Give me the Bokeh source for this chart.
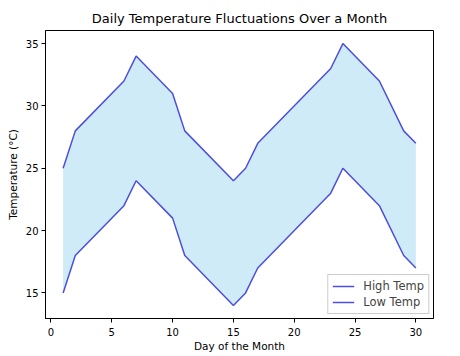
from bokeh.plotting import figure
from bokeh.models import Range1d, ColumnDataSource, Legend, LegendItem, FixedTicker
from bokeh.embed import file_html
from bokeh.resources import INLINE

days = [1, 2, 6, 7, 10, 11, 15, 16, 17, 23, 24, 27, 29, 30]
high_temp = [25, 28, 32, 34, 31, 28, 24, 25, 27, 33, 35, 32, 28, 27]
low_temp = [15, 18, 22, 24, 21, 18, 14, 15, 17, 23, 25, 22, 18, 17]
x_ticks = [0, 5, 10, 15, 20, 25, 30]
y_ticks = [15, 20, 25, 30, 35]

FONT = "DejaVu Sans"

p = figure(width=460, height=356, output_backend="svg", toolbar_location=None,
           x_range=Range1d(-0.45, 31.45), y_range=Range1d(12.95, 36.05),
           min_border_left=45, min_border_right=27, min_border_top=30, min_border_bottom=38)

p.title.text = "Daily Temperature Fluctuations Over a Month"
p.title.align = "center"
p.title.text_font = FONT
p.title.text_font_size = "13px"
p.title.text_font_style = "normal"
p.title.text_color = "black"

src = ColumnDataSource(dict(x=days, hi=high_temp, lo=low_temp))
p.varea(x="x", y1="lo", y2="hi", source=src, fill_color="skyblue", fill_alpha=0.4)
r_hi = p.line(x="x", y="hi", source=src, line_color="#3c3cd8", line_alpha=0.9, line_width=1.5)
r_lo = p.line(x="x", y="lo", source=src, line_color="#3c3cd8", line_alpha=0.9, line_width=1.5)

p.xgrid.visible = False
p.ygrid.visible = False
p.outline_line_color = "black"
p.outline_line_width = 1

for ax in (p.xaxis[0], p.yaxis[0]):
    ax.axis_line_color = "black"
    ax.major_tick_line_color = "black"
    ax.major_tick_out = 4
    ax.major_tick_in = 0
    ax.minor_tick_line_color = None
    ax.major_label_text_font = FONT
    ax.major_label_text_font_size = "10px"
    ax.major_label_text_color = "black"
    ax.axis_label_text_font = FONT
    ax.axis_label_text_font_size = "10.5px"
    ax.axis_label_text_font_style = "normal"
    ax.axis_label_text_color = "black"

p.xaxis[0].ticker = FixedTicker(ticks=x_ticks)
p.yaxis[0].ticker = FixedTicker(ticks=y_ticks)
p.xaxis[0].axis_label = "Day of the Month"
p.yaxis[0].axis_label = "Temperature (°C)"
p.xaxis[0].axis_label_standoff = 1
p.yaxis[0].axis_label_standoff = 4
p.xaxis[0].major_label_standoff = 5
p.yaxis[0].major_label_standoff = 3

legend = Legend(items=[LegendItem(label="High Temp", renderers=[r_hi]),
                       LegendItem(label="Low Temp", renderers=[r_lo])],
                location="bottom_right")
legend.label_text_font = FONT
legend.label_text_font_size = "11.5px"
legend.border_line_color = "#cccccc"
legend.border_line_alpha = 1
legend.background_fill_alpha = 0.8
legend.glyph_width = 22
legend.glyph_height = 14
legend.spacing = 2
legend.padding = 4
legend.margin = 4
legend.label_standoff = 9
legend.label_height = 14
p.add_layout(legend)

open("out.html", "w").write(file_html(p, INLINE))
